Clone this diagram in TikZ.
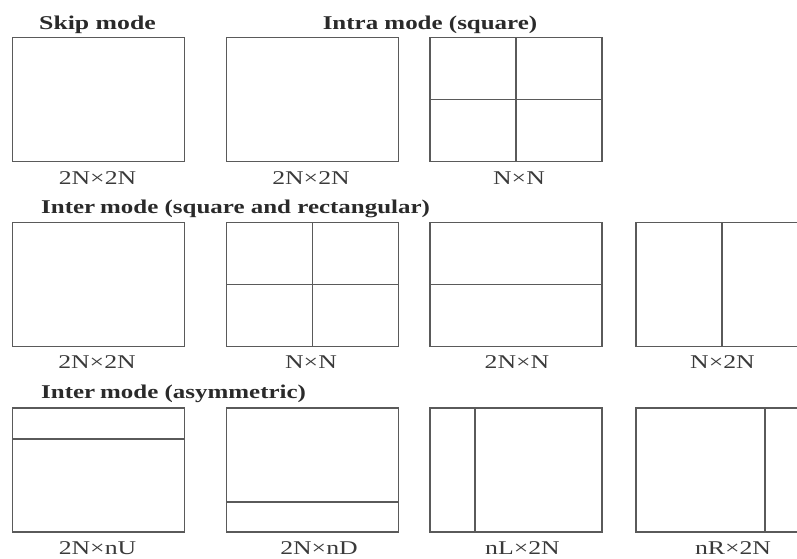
\documentclass[tikz,border=0pt]{standalone}
\usepackage{fontspec}
\usepackage{graphicx}
\setmainfont{Liberation Serif}
\usetikzlibrary{calc}
\definecolor{linegray}{HTML}{5A5A5A}
\definecolor{titlegray}{HTML}{2A2A2A}
\definecolor{labgray}{HTML}{3A3A3A}
\newcommand{\wx}[1]{\scalebox{1.32}[1]{#1}}
\newcommand{\wt}[1]{\scalebox{1.28}[1]{#1}}
\tikzset{
  pbox/.style={draw=linegray, line width=1.8pt, minimum width=172pt, minimum height=124pt, inner sep=0pt, outer sep=0pt},
  divline/.style={draw=linegray, line width=1.8pt},
  ttl/.style={font=\fontsize{19.5}{22}\selectfont\bfseries, text=titlegray, inner sep=0pt},
  lab/.style={font=\fontsize{19.5}{22}\selectfont, text=labgray, inner sep=0pt, anchor=base}
}
\begin{document}
\begin{tikzpicture}[x=1pt,y=-1pt]
\clip (0,0) rectangle (797,558);
% titles
\node[ttl, anchor=base] (t1) at (97.5,29) {\wx{Skip mode}};
\node[ttl, anchor=base] (t2) at (430,29) {\wt{Intra mode (square)}};
\node[ttl, anchor=base west] (t3) at (41,213) {\wt{Inter\kern-1pt\ mode (square and rectangular)}};
\node[ttl, anchor=base west] (t4) at (41,398) {\wt{Inter\kern-1pt\ mode (asymmetric)}};
% row 1
\node[pbox] (a1) at (98.5,99.5) {};
\node[pbox] (a2) at (312.5,99.5) {};
\node[pbox] (a3) at (516,99.5) {};
\draw[divline] (a3.north) -- (a3.south);
\draw[divline] (a3.west) -- (a3.east);
\node[lab] (la1) at (97.5,184) {\wx{2N×2N}};
\node[lab] (la2) at (311,184) {\wx{2N×2N}};
\node[lab] (la3) at (519,184) {\wx{N×N}};
% row 2
\node[pbox] (b1) at (98.5,284.5) {};
\node[pbox] (b2) at (312.5,284.5) {};
\node[pbox] (b3) at (516,284.5) {};
\node[pbox] (b4) at (722,284.5) {};
\draw[divline] (b2.north) -- (b2.south);
\draw[divline] (b2.west) -- (b2.east);
\draw[divline] (b3.west) -- (b3.east);
\draw[divline] (b4.north) -- (b4.south);
\node[lab] (lb1) at (97,368) {\wx{2N×2N}};
\node[lab] (lb2) at (311,368) {\wx{N×N}};
\node[lab] (lb3) at (517,368) {\wx{2N×N}};
\node[lab] (lb4) at (722.5,368) {\wx{N×2N}};
% row 3
\node[pbox] (c1) at (98.5,470) {};
\node[pbox] (c2) at (312.5,470) {};
\node[pbox] (c3) at (516,470) {};
\node[pbox] (c4) at (722,470) {};
\draw[divline] ($(c1.north west)!0.25!(c1.south west)$) -- ($(c1.north east)!0.25!(c1.south east)$);
\draw[divline] ($(c2.north west)!0.76!(c2.south west)$) -- ($(c2.north east)!0.76!(c2.south east)$);
\draw[divline] ($(c3.north west)!0.26!(c3.north east)$) -- ($(c3.south west)!0.26!(c3.south east)$);
\draw[divline] ($(c4.north west)!0.75!(c4.north east)$) -- ($(c4.south west)!0.75!(c4.south east)$);
\node[lab] (lc1) at (97.5,554) {\wx{2N×nU}};
\node[lab] (lc2) at (319,554) {\wx{2N×nD}};
\node[lab] (lc3) at (522.5,554) {\wx{nL×2N}};
\node[lab] (lc4) at (733,554) {\wx{nR×2N}};
\end{tikzpicture}
\end{document}
